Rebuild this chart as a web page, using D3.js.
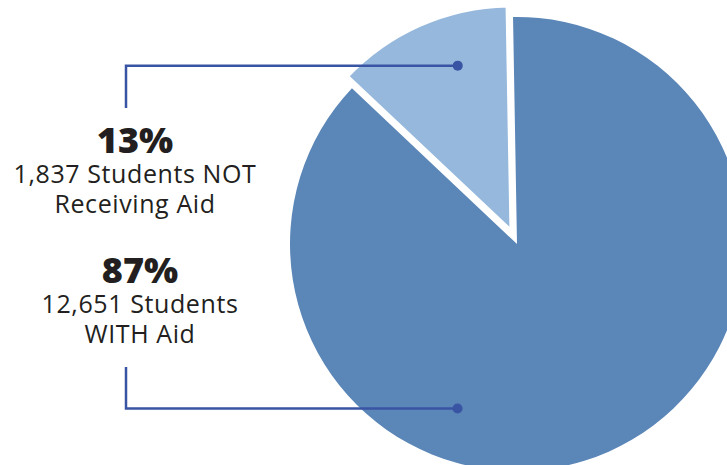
<!DOCTYPE html>
<html>
<head>
<meta charset="utf-8">
<script src="https://cdn.jsdelivr.net/npm/d3@7"></script>
<style>
  html, body { margin: 0; padding: 0; background: #fff; }
  svg { display: block; }
  .pct { font-family: "Open Sans", Lato, sans-serif; font-weight: 800; fill: #231f20; }
  .desc { font-family: "Open Sans", Lato, sans-serif; font-weight: 400; fill: #231f20; letter-spacing: 0.6px; }
</style>
</head>
<body>
<script>
// Student financial aid split
const categories = ["WITH Aid", "NOT Receiving Aid"];
const students = [12651, 1837];
const percentLabels = ["87%", "13%"];
const descLines = [["12,651 Students", "WITH Aid"], ["1,837 Students NOT", "Receiving Aid"]];
const colors = ["#5b86b8", "#95b8dc"];

const W = 727, H = 465;
const svg = d3.select("body").append("svg").attr("width", W).attr("height", H);

const cx = 517, cy = 244, R = 227;
const tilt = -1 * Math.PI / 180;   // slight counter-clockwise rotation of the whole pie
const explode = 13;                // pull-out distance of the small slice

const pie = d3.pie().sort(null).value(d => d)
  .startAngle(tilt).endAngle(2 * Math.PI + tilt);
const arcs = pie(students);
const arc = d3.arc().innerRadius(0).outerRadius(R);

const g = svg.append("g").attr("transform", `translate(${cx},${cy})`);

function offset(d, k) {
  const m = (d.startAngle + d.endAngle) / 2;
  return [Math.sin(m) * k, -Math.cos(m) * k];
}

g.selectAll("path").data(arcs).join("path")
  .attr("d", arc)
  .attr("fill", (d, i) => colors[i])
  .attr("stroke", (d, i) => i === 1 ? "#fff" : "none")
  .attr("stroke-width", 4.5)
  .attr("stroke-linejoin", "miter")
  .attr("transform", (d, i) => i === 1 ? `translate(${offset(d, explode)})` : null);

// Leader anchor points inside each slice (fraction of the slice's sweep)
const anchorFrac = [0.639, 0.628];
const anchorR = 175;
function anchor(i) {
  const d = arcs[i];
  const a = d.startAngle + (d.endAngle - d.startAngle) * anchorFrac[i];
  const off = i === 1 ? offset(d, explode) : [0, 0];
  return [cx + off[0] + Math.sin(a) * anchorR, cy + off[1] - Math.cos(a) * anchorR];
}

const lineColor = "#3a54a4";
const leaderX = 126;
const leaderEnds = [367, 108];   // where each leader meets its label block

[1, 0].forEach(i => {
  const [ax, ay] = anchor(i);
  svg.append("path")
    .attr("d", `M${leaderX},${leaderEnds[i]}V${ay}H${ax}`)
    .attr("fill", "none")
    .attr("stroke", lineColor)
    .attr("stroke-width", 2.5);
  svg.append("circle").attr("cx", ax).attr("cy", ay).attr("r", 5).attr("fill", lineColor);
});

// Label blocks: one text element per block, lines as tspans
const blocks = [
  { i: 1, x: 135, y: 153 },
  { i: 0, x: 140, y: 283 }
];
blocks.forEach(b => {
  const t = svg.append("text")
    .attr("x", b.x).attr("y", b.y)
    .attr("text-anchor", "middle");
  t.append("tspan").attr("class", "pct")
    .attr("x", b.x).attr("y", b.y)
    .attr("font-size", 36)
    .text(percentLabels[b.i]);
  descLines[b.i].forEach((s, k) => {
    t.append("tspan").attr("class", "desc")
      .attr("x", b.x).attr("y", b.y + 30 + k * 30)
      .attr("font-size", 25)
      .text(s);
  });
});
</script>
</body>
</html>
